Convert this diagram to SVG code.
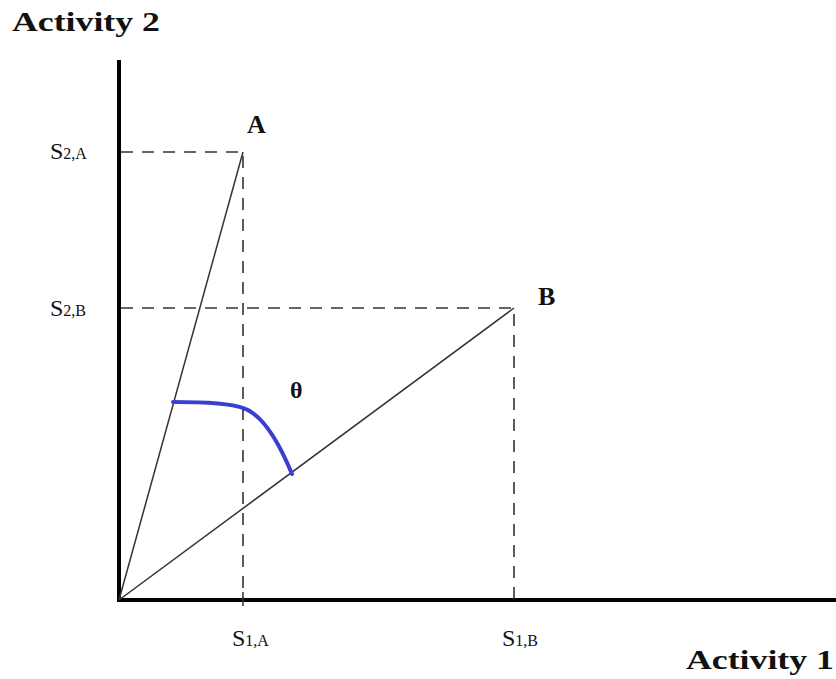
<svg xmlns="http://www.w3.org/2000/svg" width="836" height="679" viewBox="0 0 836 679">
<style>
.lbl{font-family:"Liberation Serif","DejaVu Serif",serif;fill:#111}
.b{font-weight:bold}
.dash{stroke:#333;stroke-width:1.6;stroke-dasharray:12,9;fill:none}
.thin{stroke:#333;stroke-width:1.5;fill:none}
.axis{stroke:#000;stroke-width:4;fill:none}
</style>
<rect width="836" height="679" fill="#fff"/>
<g id="axes">
<line class="axis" x1="119" y1="60" x2="119" y2="602"/>
<line class="axis" x1="117" y1="600" x2="836" y2="600"/>
<line class="thin" x1="243" y1="592" x2="243" y2="606"/>
</g>
<g id="connectors">
<path class="dash" d="M121,152 H243 V600"/>
<path class="dash" d="M121,308 H514 V600"/>
<line class="thin" x1="119" y1="600" x2="243" y2="152"/>
<line class="thin" x1="119" y1="600" x2="514" y2="308"/>
<path d="M173,402 C200,402 230,403 243,408 C262,414 278,440 292,474" stroke="#3a3fcf" stroke-width="4" fill="none" stroke-linecap="round"/>
</g>
<g id="labels">
<text class="lbl b" x="12" y="31" font-size="28" textLength="148" lengthAdjust="spacingAndGlyphs">Activity 2</text>
<text class="lbl b" x="686" y="669" font-size="28" textLength="148" lengthAdjust="spacingAndGlyphs">Activity 1</text>
<text class="lbl b" x="247" y="133" font-size="26">A</text>
<text class="lbl b" x="538" y="305" font-size="26">B</text>
<text class="lbl b" x="290" y="398" font-size="24">θ</text>
<text class="lbl" x="50" y="159" font-size="24">S<tspan font-size="16">2,A</tspan></text>
<text class="lbl" x="50" y="316" font-size="24">S<tspan font-size="16">2,B</tspan></text>
<text class="lbl" x="232" y="646" font-size="24">S<tspan font-size="16">1,A</tspan></text>
<text class="lbl" x="502" y="646" font-size="24">S<tspan font-size="16">1,B</tspan></text>
</g>
</svg>
